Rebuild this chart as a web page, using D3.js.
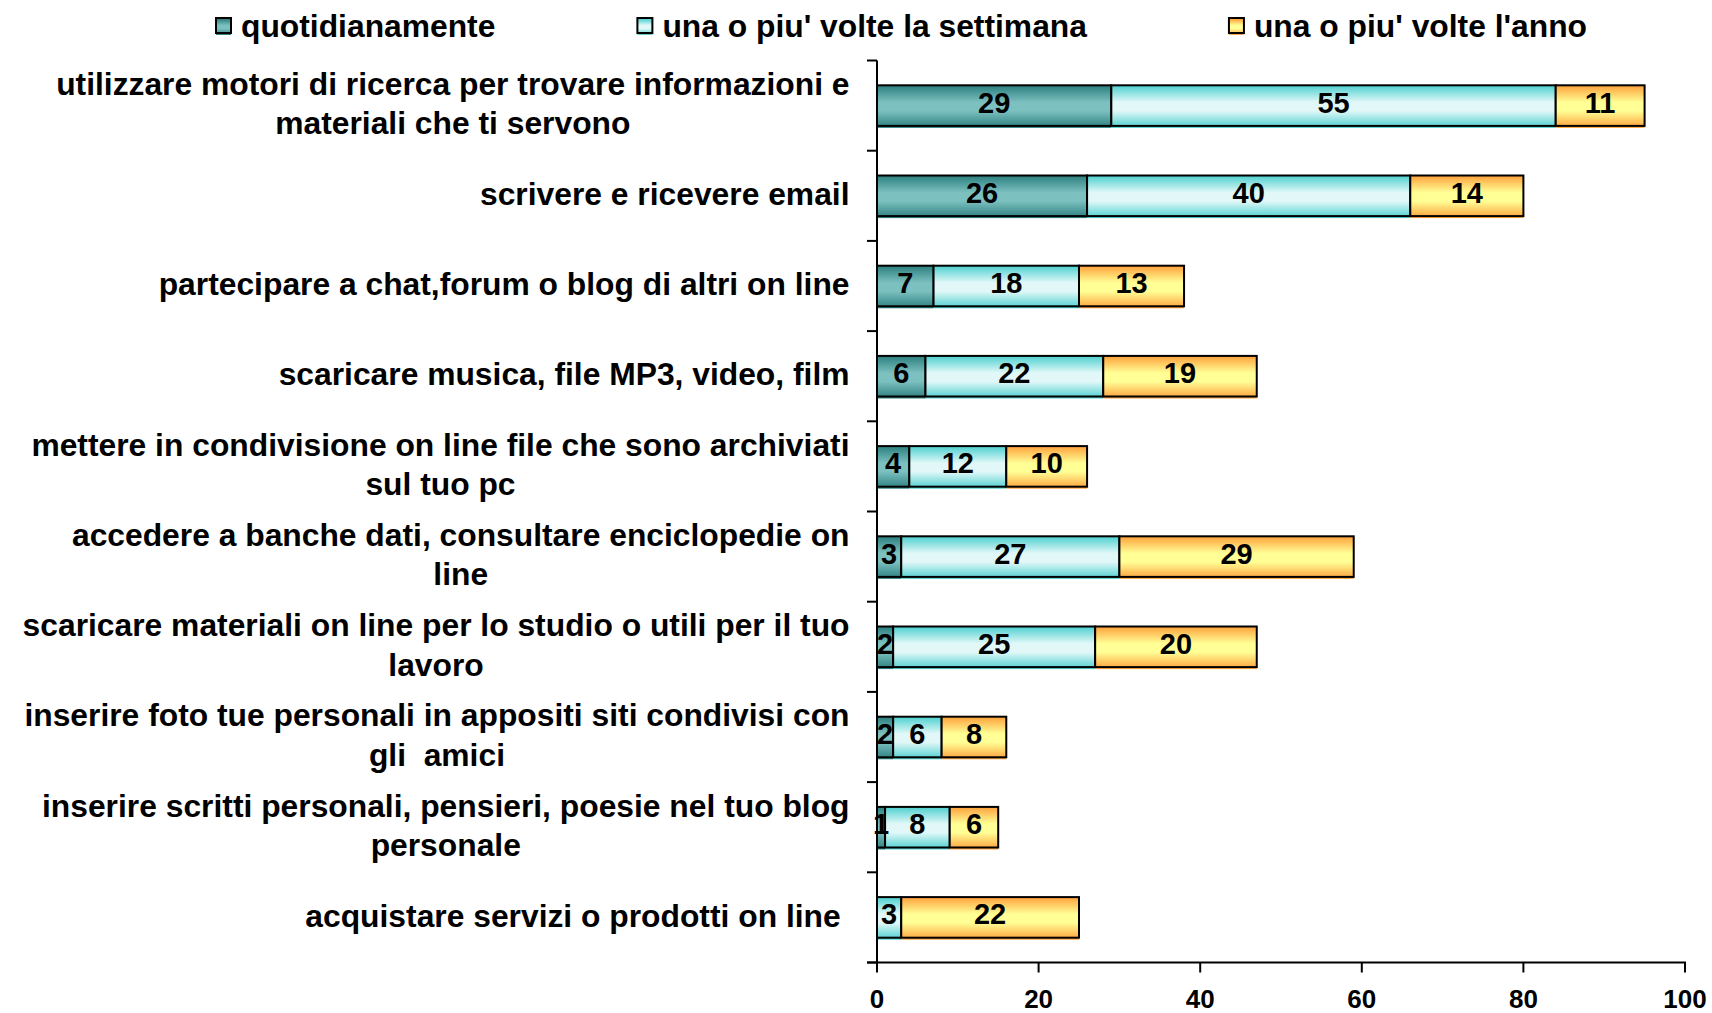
<!DOCTYPE html>
<html>
<head>
<meta charset="utf-8">
<script src="https://cdn.jsdelivr.net/npm/d3@7"></script>
<style>
  body { margin: 0; background: #fff; }
  text { font-family: "Liberation Sans", Arial, sans-serif; font-weight: bold; fill: #000; white-space: pre; }
</style>
</head>
<body>
<svg id="chart" width="1712" height="1013"></svg>
<script>
// righe delle etichette (a capo come nel grafico originale)
const categories = [
  ['utilizzare motori di ricerca per trovare informazioni e', 'materiali che ti servono'],
  ['scrivere e ricevere email'],
  ['partecipare a chat,forum o blog di altri on line'],
  ['scaricare musica, file MP3, video, film'],
  ['mettere in condivisione on line file che sono archiviati', 'sul tuo pc'],
  ['accedere a banche dati, consultare enciclopedie on', 'line'],
  ['scaricare materiali on line per lo studio o utili per il tuo', 'lavoro'],
  ['inserire foto tue personali in appositi siti condivisi con', 'gli  amici'],
  ['inserire scritti personali, pensieri, poesie nel tuo blog', 'personale'],
  ['acquistare servizi o prodotti on line ']
];
const seriesNames = ['quotidianamente', "una o piu' volte la settimana", "una o piu' volte l'anno"];
const quotidianamente = [29, 26, 7, 6, 4, 3, 2, 2, 1, 0];
const settimana = [55, 40, 18, 22, 12, 27, 25, 6, 8, 3];
const anno = [11, 14, 13, 19, 10, 29, 20, 8, 6, 22];
const xTicks = [0, 20, 40, 60, 80, 100];

const gradients = [
  { id: 'g0', dark: '#2b7e7e', light: '#7cc0c0' },
  { id: 'g1', dark: '#4ccfcf', light: '#e2f8f8' },
  { id: 'g2', dark: '#ffa03a', light: '#ffff96' }
];

const svg = d3.select('#chart');
const plot = { left: 877, right: 1685, top: 60.5, bottom: 962.5 };

const keys = categories.map(c => c.join(' '));
const x = d3.scaleLinear().domain([0, 100]).range([plot.left, plot.right]);
const y = d3.scaleBand().domain(keys).range([plot.top, plot.bottom])
  .paddingInner(0.55).paddingOuter(0.275);

// GRADIENTI
const defs = svg.append('defs');
gradients.forEach(g => {
  const lg = defs.append('linearGradient').attr('id', g.id)
    .attr('x1', 0).attr('y1', 0).attr('x2', 0).attr('y2', 1);
  lg.append('stop').attr('offset', '0%').attr('stop-color', g.dark);
  lg.append('stop').attr('offset', '40%').attr('stop-color', g.light);
  lg.append('stop').attr('offset', '60%').attr('stop-color', g.light);
  lg.append('stop').attr('offset', '100%').attr('stop-color', g.dark);
});

// DATI IMPILATI
const rows = keys.map((k, i) => ({ key: k, v: [quotidianamente[i], settimana[i], anno[i]] }));
const stack = d3.stack().keys([0, 1, 2]).value((d, s) => d.v[s]);
const layers = stack(rows);

layers.forEach((layer, s) => {
  const g = svg.append('g');
  layer.forEach(seg => {
    const val = seg.data.v[s];
    if (val === 0) return;
    const x0 = x(seg[0]), x1 = x(seg[1]);
    const yy = y(seg.data.key), h = y.bandwidth();
    g.append('rect')
      .attr('x', x0).attr('y', yy).attr('width', x1 - x0).attr('height', h + 2)
      .attr('fill', `url(#${gradients[s].id})`);
    g.append('rect')
      .attr('x', x0).attr('y', yy).attr('width', x1 - x0).attr('height', h)
      .attr('fill', 'none').attr('stroke', '#000').attr('stroke-width', 2);
  });
});

// ETICHETTE VALORI
layers.forEach((layer, s) => {
  layer.forEach(seg => {
    const val = seg.data.v[s];
    if (val === 0) return;
    svg.append('text')
      .attr('x', x((seg[0] + seg[1]) / 2))
      .attr('y', y(seg.data.key) + y.bandwidth() / 2 + 7)
      .attr('text-anchor', 'middle')
      .attr('font-size', 29)
      .text(val);
  });
});

// ASSI
const axis = svg.append('g').attr('stroke', '#000').attr('stroke-width', 2);
axis.append('line').attr('x1', plot.left).attr('x2', plot.left)
  .attr('y1', plot.top).attr('y2', plot.bottom + 1);
axis.append('line').attr('x1', plot.left - 10).attr('x2', plot.right + 1)
  .attr('y1', plot.bottom).attr('y2', plot.bottom);
for (let i = 0; i <= keys.length; i++) {
  const yy = plot.top + i * y.step();
  axis.append('line').attr('x1', plot.left - 10).attr('x2', plot.left)
    .attr('y1', yy).attr('y2', yy);
}
xTicks.forEach(t => {
  axis.append('line').attr('x1', x(t)).attr('x2', x(t))
    .attr('y1', plot.bottom).attr('y2', plot.bottom + 10);
  svg.append('text')
    .attr('x', x(t)).attr('y', plot.bottom + 45)
    .attr('text-anchor', 'middle').attr('font-size', 26)
    .text(t);
});

// ETICHETTE CATEGORIE
const labelRight = 849.5;
const catSize = 31.8;
categories.forEach((lines, i) => {
  const g = svg.append('g');
  const cy = y(keys[i]) + y.bandwidth() / 2;
  const texts = lines.map((line, j) => g.append('text')
    .attr('font-size', catSize)
    .attr('y', cy + (j - (lines.length - 1) / 2) * 39.5 + catSize * 0.36 - 2.3)
    .attr('text-anchor', 'middle')
    .text(line));
  const maxW = d3.max(texts, t => t.node().getComputedTextLength());
  texts.forEach(t => t.attr('x', labelRight - maxW / 2));
});

// LEGENDA
let lx = 216;
seriesNames.forEach((name, s) => {
  svg.append('rect').attr('x', lx).attr('y', 19).attr('width', 15).attr('height', 16)
    .attr('fill', `url(#${gradients[s].id})`);
  svg.append('rect').attr('x', lx).attr('y', 18).attr('width', 15).attr('height', 15)
    .attr('fill', 'none').attr('stroke', '#000').attr('stroke-width', 2);
  const t = svg.append('text').attr('x', lx + 25).attr('y', 37)
    .attr('font-size', 31.8).text(name);
  lx += 25 + t.node().getComputedTextLength() + 142;
});
</script>
</body>
</html>
